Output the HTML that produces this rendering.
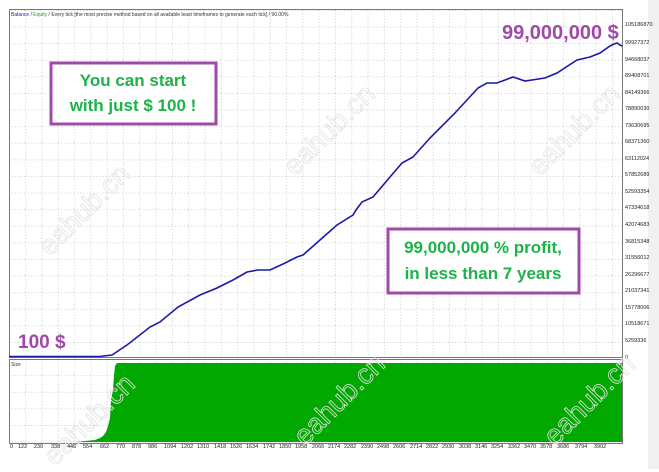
<!DOCTYPE html>
<html><head><meta charset="utf-8"><style>
html,body{margin:0;padding:0;background:#fff;width:659px;height:469px;overflow:hidden;font-family:"Liberation Sans",sans-serif}
.wm{position:absolute;font-size:28px;color:transparent;-webkit-text-stroke:0.8px #e2e2e2;transform:rotate(-45deg);transform-origin:left bottom;white-space:nowrap}
</style></head><body>
<div style="position:absolute;left:648px;top:0;width:11px;height:469px;background:#f0f0f0"></div>
<svg width="659" height="469" style="position:absolute;left:0;top:0" xmlns="http://www.w3.org/2000/svg">
<defs>
<pattern id="g" x="9" y="10" width="16.3" height="16.6" patternUnits="userSpaceOnUse">
<path d="M0 0.5H16.3M0.5 0V16.6" stroke="#cfcfcf" stroke-width="1" stroke-dasharray="1,2" fill="none"/>
</pattern>
</defs>
<rect x="9" y="9" width="613" height="348" fill="url(#g)"/>
<rect x="9" y="359" width="613" height="84" fill="url(#g)"/>
<rect x="9.5" y="9.5" width="613" height="348" fill="none" stroke="#777"/>
<rect x="9.5" y="359.5" width="613" height="84" fill="none" stroke="#777"/>
<text x="11" y="16" font-size="5" fill="#333"><tspan fill="#2020a0">Balance</tspan> / <tspan fill="#20a020">Equity</tspan> / Every tick [the most precise method based on all available least timeframes to generate each tick] / 90.00%</text>
<text x="11" y="366" font-size="5" fill="#333">Size</text>
<path d="M75 442 L85 441 L95 440 L100 438 L103 436 L106 432 L108 426 L110 418 L111 400 L113 390 L114 375 L115 366 L117 363 L622 363 L622 442 Z" fill="#00a800"/>
<path d="M9 356.5 L100 356.5 L112 355 L127 345 L150 327 L160 322 L178 307 L200 295 L217 288 L233 280 L247 272 L258 270 L270 270 L283 264 L297 257 L303 255 L320 240 L337 225 L353 215 L356 210 L362 202 L373 197 L390 177 L402 163 L413 157 L430 138 L455 113 L478 88 L487 83 L497 83 L513 77 L525 81 L545 78 L557 73 L577 60 L590 57 L600 53 L610 46 L614 44 L617 43 L620 45 L622 46" fill="none" stroke="#1a1aa8" stroke-width="1.6"/>
<g font-size="5.5" fill="#222">
<text x="625" y="26">105186870</text><text x="625" y="44">99927372</text><text x="625" y="61">94668037</text><text x="625" y="77">89408701</text><text x="625" y="94">84149366</text><text x="625" y="110">78890030</text><text x="625" y="127">73630695</text><text x="625" y="143">68371360</text><text x="625" y="160">63112024</text><text x="625" y="176">57852689</text><text x="625" y="193">52593354</text><text x="625" y="209">47334018</text><text x="625" y="226">42074683</text><text x="625" y="243">36815348</text><text x="625" y="259">31556012</text><text x="625" y="276">26296677</text><text x="625" y="292">21037341</text><text x="625" y="309">15778006</text><text x="625" y="325">10518671</text><text x="625" y="342">5259336</text><text x="625" y="359">0</text>
</g>
<rect x="51" y="63" width="165" height="61" fill="#fff" stroke="#a04aa8" stroke-width="3"/>
<rect x="388" y="229" width="191" height="64" fill="#fff" stroke="#a04aa8" stroke-width="3"/>
<g font-weight="bold" fill="#1db24a" font-size="17" text-anchor="middle">
<text x="133" y="86">You can start</text>
<text x="133" y="111">with just $ 100 !</text>
<text x="483" y="253">99,000,000 % profit,</text>
<text x="483" y="279">in less than 7 years</text>
</g>
<text x="502" y="39" font-weight="bold" fill="#a04aa8" font-size="20">99,000,000 $</text>
<text x="18" y="348" font-weight="bold" fill="#a04aa8" font-size="19">100 $</text>
</svg>
<div class="wm" style="left:55px;top:230px">eahub.cn</div>
<div class="wm" style="left:60px;top:440px">eahub.cn</div>
<div class="wm" style="left:300px;top:150px">eahub.cn</div>
<div class="wm" style="left:310px;top:420px">eahub.cn</div>
<div class="wm" style="left:545px;top:150px">eahub.cn</div>
<div class="wm" style="left:560px;top:420px">eahub.cn</div>
<div style="position:absolute;left:0;top:444px;width:640px;height:10px;font-size:5.5px;color:#222">
<span style="position:absolute;left:10px">0</span><span style="position:absolute;left:18px">122</span><span style="position:absolute;left:34px">230</span><span style="position:absolute;left:51px">338</span><span style="position:absolute;left:67px">446</span><span style="position:absolute;left:83px">554</span><span style="position:absolute;left:100px">662</span><span style="position:absolute;left:116px">770</span><span style="position:absolute;left:132px">878</span><span style="position:absolute;left:148px">986</span><span style="position:absolute;left:164px">1094</span><span style="position:absolute;left:181px">1202</span><span style="position:absolute;left:197px">1310</span><span style="position:absolute;left:214px">1418</span><span style="position:absolute;left:230px">1526</span><span style="position:absolute;left:246px">1634</span><span style="position:absolute;left:263px">1742</span><span style="position:absolute;left:279px">1850</span><span style="position:absolute;left:295px">1958</span><span style="position:absolute;left:312px">2066</span><span style="position:absolute;left:328px">2174</span><span style="position:absolute;left:344px">2282</span><span style="position:absolute;left:361px">2390</span><span style="position:absolute;left:377px">2498</span><span style="position:absolute;left:393px">2606</span><span style="position:absolute;left:410px">2714</span><span style="position:absolute;left:426px">2822</span><span style="position:absolute;left:442px">2930</span><span style="position:absolute;left:459px">3038</span><span style="position:absolute;left:475px">3146</span><span style="position:absolute;left:491px">3254</span><span style="position:absolute;left:508px">3362</span><span style="position:absolute;left:524px">3470</span><span style="position:absolute;left:540px">3578</span><span style="position:absolute;left:557px">3686</span><span style="position:absolute;left:575px">3794</span><span style="position:absolute;left:594px">3902</span>
</div>
</body></html>
